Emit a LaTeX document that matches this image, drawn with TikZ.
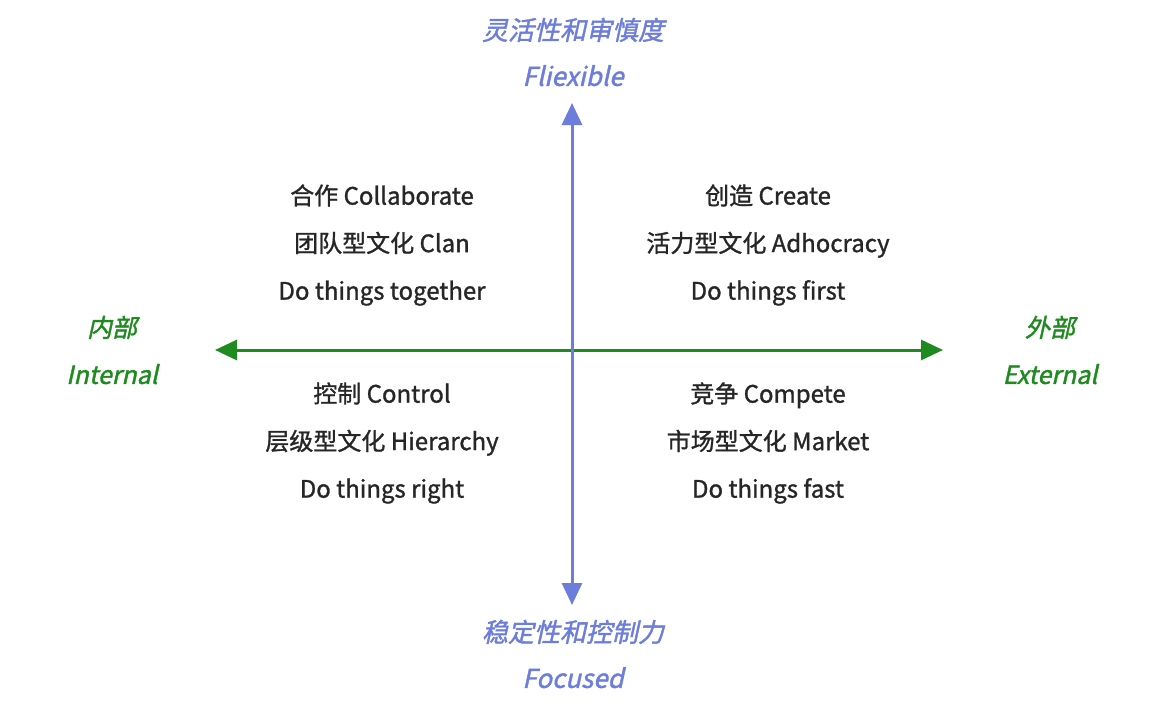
\documentclass[tikz,border=0pt]{standalone}
\usepackage{fontspec}
\newfontfamily\cjk[FakeBold=1.2]{Noto Sans CJK SC}
\newfontfamily\cjkit[FakeSlant=0.22,FakeBold=1.5]{Noto Sans CJK SC}
\usetikzlibrary{arrows.meta}
\definecolor{axisblue}{HTML}{6C7DDB}
\definecolor{axisgreen}{HTML}{1F8A1F}
\definecolor{txtgray}{HTML}{262626}
\tikzset{
  quad/.style={align=center,text=txtgray,font=\cjk\fontsize{24}{47.5}\selectfont},
  vlabel/.style={align=center,text=axisblue,font=\cjkit\fontsize{26}{46}\selectfont},
  hlabel/.style={align=center,text=axisgreen,font=\cjkit\fontsize{25}{47}\selectfont},
  axis/.style={line width=3pt,-{Triangle[length=22pt,width=20pt]}},
}
\begin{document}
\begin{tikzpicture}[x=1pt,y=-1pt]
  \useasboundingbox (0,0) rectangle (1159,707);
  % axis ends
  \coordinate (west) at (215,350);
  \coordinate (east) at (943,350);
  \coordinate (north) at (572,103);
  \coordinate (south) at (572,605);
  \coordinate (origin) at (572,350);
  \draw[axis,axisgreen] (origin) -- (west);
  \draw[axis,axisgreen] (origin) -- (east);
  \draw[axis,axisblue] (origin) -- (north);
  \draw[axis,axisblue] (origin) -- (south);
  % axis labels
  \node[vlabel] (flex) at (573,52) {灵活性和审慎度\\Fliexible};
  \node[vlabel] (focus) at (573,654) {稳定性和控制力\\Focused};
  \node[hlabel] (internal) at (112,350) {内部\\Internal};
  \node[hlabel] (external) at (1050,350) {外部\\External};
  % quadrants
  \node[quad] (clan) at (382,245) {合作 Collaborate\\团队型文化 Clan\\Do things together};
  \node[quad] (adhoc) at (768,245) {创造 Create\\活力型文化 Adhocracy\\Do things first};
  \node[quad] (hier) at (382,443) {控制 Control\\层级型文化 Hierarchy\\Do things right};
  \node[quad] (market) at (768,443) {竞争 Compete\\市场型文化 Market\\Do things fast};
\end{tikzpicture}
\end{document}
